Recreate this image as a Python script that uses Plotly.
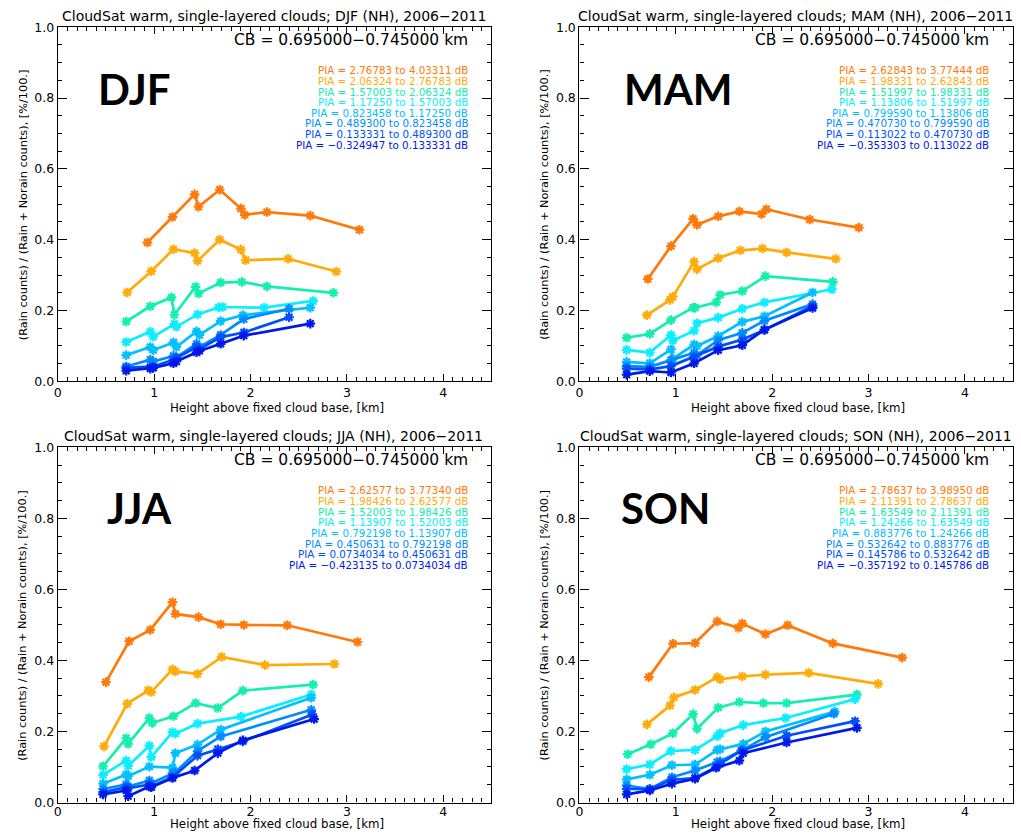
import plotly.graph_objects as go

# ---------------- data ----------------
seasons = ["DJF", "MAM", "JJA", "SON"]

djf_heights = [
    [0.93, 1.19, 1.42, 1.46, 1.68, 1.90, 1.94, 2.17, 2.62, 3.13],
    [0.72, 0.97, 1.20, 1.42, 1.45, 1.68, 1.90, 1.95, 2.39, 2.89],
    [0.71, 0.96, 1.18, 1.21, 1.43, 1.46, 1.69, 1.91, 2.17, 2.86],
    [0.71, 0.96, 0.99, 1.21, 1.23, 1.45, 1.67, 1.71, 2.14, 2.65],
    [0.71, 0.96, 0.99, 1.20, 1.23, 1.44, 1.47, 1.69, 1.92, 2.62],
    [0.71, 0.96, 0.99, 1.20, 1.23, 1.44, 1.47, 1.69, 1.93, 2.40],
    [0.71, 0.96, 0.99, 1.20, 1.23, 1.44, 1.47, 1.69, 1.93, 2.40],
    [0.71, 0.96, 0.99, 1.20, 1.23, 1.44, 1.47, 1.69, 1.93, 2.62],
]
djf_frac = [
    [0.392, 0.464, 0.528, 0.493, 0.541, 0.488, 0.470, 0.478, 0.468, 0.428],
    [0.251, 0.311, 0.373, 0.362, 0.340, 0.400, 0.372, 0.342, 0.346, 0.310],
    [0.169, 0.212, 0.237, 0.188, 0.267, 0.248, 0.279, 0.281, 0.268, 0.250],
    [0.111, 0.140, 0.126, 0.162, 0.154, 0.189, 0.209, 0.210, 0.208, 0.227],
    [0.074, 0.097, 0.088, 0.110, 0.097, 0.141, 0.131, 0.170, 0.187, 0.208],
    [0.042, 0.061, 0.056, 0.072, 0.068, 0.106, 0.097, 0.131, 0.176, 0.205],
    [0.038, 0.040, 0.042, 0.061, 0.066, 0.097, 0.091, 0.125, 0.138, 0.181],
    [0.030, 0.036, 0.038, 0.051, 0.056, 0.082, 0.086, 0.106, 0.129, 0.163],
]
djf_pia = [
    "PIA = 2.76783 to 4.03311 dB", "PIA = 2.06324 to 2.76783 dB",
    "PIA = 1.57003 to 2.06324 dB", "PIA = 1.17250 to 1.57003 dB",
    "PIA = 0.823458 to 1.17250 dB", "PIA = 0.489300 to 0.823458 dB",
    "PIA = 0.133331 to 0.489300 dB", "PIA = −0.324947 to 0.133331 dB",
]

mam_heights = [
    [0.71, 0.95, 1.18, 1.22, 1.44, 1.66, 1.89, 1.94, 2.39, 2.90],
    [0.70, 0.94, 0.97, 1.19, 1.22, 1.44, 1.67, 1.90, 2.15, 2.66],
    [0.49, 0.73, 0.95, 1.18, 1.20, 1.42, 1.46, 1.69, 1.93, 2.63],
    [0.49, 0.73, 0.95, 0.97, 1.19, 1.22, 1.44, 1.69, 1.92, 2.62],
    [0.49, 0.73, 0.95, 0.97, 1.19, 1.22, 1.44, 1.69, 1.92, 2.42],
    [0.49, 0.73, 0.95, 1.19, 1.22, 1.44, 1.69, 1.92, 2.42],
    [0.49, 0.73, 0.95, 1.19, 1.44, 1.69, 1.92, 2.42],
    [0.49, 0.73, 0.95, 1.19, 1.44, 1.69, 1.92, 2.42],
]
mam_frac = [
    [0.289, 0.382, 0.459, 0.442, 0.466, 0.480, 0.472, 0.486, 0.457, 0.434],
    [0.187, 0.230, 0.239, 0.338, 0.317, 0.348, 0.370, 0.375, 0.364, 0.346],
    [0.123, 0.134, 0.173, 0.208, 0.208, 0.223, 0.244, 0.255, 0.297, 0.281],
    [0.089, 0.081, 0.131, 0.115, 0.143, 0.164, 0.180, 0.205, 0.223, 0.260],
    [0.055, 0.051, 0.090, 0.064, 0.104, 0.100, 0.128, 0.168, 0.184, 0.251],
    [0.043, 0.041, 0.060, 0.081, 0.074, 0.116, 0.137, 0.171, 0.218],
    [0.036, 0.034, 0.043, 0.069, 0.098, 0.118, 0.145, 0.213],
    [0.019, 0.029, 0.025, 0.051, 0.088, 0.102, 0.146, 0.207],
]
mam_pia = [
    "PIA = 2.62843 to 3.77444 dB", "PIA = 1.98331 to 2.62843 dB",
    "PIA = 1.51997 to 1.98331 dB", "PIA = 1.13806 to 1.51997 dB",
    "PIA = 0.799590 to 1.13806 dB", "PIA = 0.470730 to 0.799590 dB",
    "PIA = 0.113022 to 0.470730 dB", "PIA = −0.353303 to 0.113022 dB",
]

jja_heights = [
    [0.50, 0.74, 0.96, 1.19, 1.22, 1.46, 1.69, 1.93, 2.38, 3.11],
    [0.48, 0.72, 0.94, 0.97, 1.19, 1.22, 1.45, 1.70, 2.15, 2.87],
    [0.47, 0.71, 0.73, 0.95, 0.98, 1.20, 1.43, 1.66, 1.92, 2.65],
    [0.47, 0.71, 0.73, 0.95, 0.97, 1.19, 1.22, 1.45, 1.90, 2.63],
    [0.47, 0.71, 0.73, 0.95, 1.19, 1.22, 1.45, 1.69, 2.63],
    [0.47, 0.71, 0.73, 0.95, 0.97, 1.19, 1.22, 1.45, 1.69, 2.63],
    [0.47, 0.71, 0.73, 0.95, 0.97, 1.19, 1.45, 1.66, 1.92, 2.64],
    [0.47, 0.71, 0.73, 0.95, 0.97, 1.19, 1.42, 1.66, 1.92, 2.66],
]
jja_frac = [
    [0.339, 0.454, 0.486, 0.564, 0.531, 0.522, 0.502, 0.500, 0.499, 0.452],
    [0.158, 0.278, 0.316, 0.311, 0.375, 0.369, 0.362, 0.410, 0.387, 0.390],
    [0.102, 0.181, 0.165, 0.238, 0.224, 0.243, 0.280, 0.266, 0.315, 0.332],
    [0.078, 0.118, 0.103, 0.160, 0.128, 0.198, 0.194, 0.222, 0.242, 0.304],
    [0.053, 0.079, 0.074, 0.101, 0.098, 0.139, 0.163, 0.205, 0.295],
    [0.038, 0.051, 0.045, 0.062, 0.054, 0.083, 0.085, 0.145, 0.186, 0.261],
    [0.029, 0.043, 0.040, 0.051, 0.045, 0.071, 0.132, 0.150, 0.172, 0.248],
    [0.023, 0.034, 0.018, 0.045, 0.043, 0.069, 0.090, 0.139, 0.175, 0.235],
]
jja_pia = [
    "PIA = 2.62577 to 3.77340 dB", "PIA = 1.98426 to 2.62577 dB",
    "PIA = 1.52003 to 1.98426 dB", "PIA = 1.13907 to 1.52003 dB",
    "PIA = 0.792198 to 1.13907 dB", "PIA = 0.450631 to 0.792198 dB",
    "PIA = 0.0734034 to 0.450631 dB", "PIA = −0.423135 to 0.0734034 dB",
]

son_heights = [
    [0.72, 0.97, 1.20, 1.43, 1.65, 1.69, 1.93, 2.16, 2.63, 3.35],
    [0.70, 0.94, 0.98, 1.20, 1.43, 1.46, 1.69, 1.93, 2.38, 3.10],
    [0.50, 0.74, 0.97, 1.18, 1.22, 1.44, 1.66, 1.91, 2.15, 2.88],
    [0.49, 0.73, 0.95, 1.20, 1.43, 1.46, 1.70, 2.14, 2.86],
    [0.49, 0.73, 0.96, 1.20, 1.43, 1.46, 1.70, 1.93, 2.65],
    [0.49, 0.73, 0.96, 1.20, 1.43, 1.46, 1.70, 1.93, 2.64],
    [0.49, 0.73, 0.96, 1.20, 1.42, 1.46, 1.68, 2.15, 2.86],
    [0.49, 0.73, 0.96, 1.20, 1.42, 1.66, 1.70, 2.15, 2.88],
]
son_frac = [
    [0.353, 0.447, 0.449, 0.510, 0.492, 0.504, 0.474, 0.499, 0.448, 0.408],
    [0.220, 0.273, 0.296, 0.317, 0.353, 0.347, 0.355, 0.360, 0.365, 0.334],
    [0.136, 0.164, 0.195, 0.249, 0.208, 0.267, 0.283, 0.280, 0.280, 0.304],
    [0.094, 0.107, 0.145, 0.148, 0.187, 0.195, 0.218, 0.238, 0.291],
    [0.065, 0.078, 0.105, 0.107, 0.148, 0.150, 0.165, 0.200, 0.256],
    [0.048, 0.038, 0.071, 0.090, 0.114, 0.116, 0.149, 0.184, 0.250],
    [0.038, 0.038, 0.064, 0.069, 0.100, 0.109, 0.146, 0.188, 0.229],
    [0.023, 0.034, 0.053, 0.067, 0.098, 0.118, 0.139, 0.169, 0.210],
]
son_pia = [
    "PIA = 2.78637 to 3.98950 dB", "PIA = 2.11391 to 2.78637 dB",
    "PIA = 1.63549 to 2.11391 dB", "PIA = 1.24266 to 1.63549 dB",
    "PIA = 0.883776 to 1.24266 dB", "PIA = 0.532642 to 0.883776 dB",
    "PIA = 0.145786 to 0.532642 dB", "PIA = −0.357192 to 0.145786 dB",
]

title_text = "CloudSat warm, single-layered clouds; {} (NH), 2006−2011"
cb_text = "CB = 0.695000−0.745000 km"
x_title = "Height above fixed cloud base, [km]"
y_title = "(Rain counts) / (Rain + Norain counts), [%/100.]"
x_ticks = [0, 1, 2, 3, 4]
y_ticks = [0.0, 0.2, 0.4, 0.6, 0.8, 1.0]

# ---------------- styling ----------------
colors = ["rgb(255,122,10)", "rgb(255,172,10)", "rgb(20,238,175)", "rgb(10,238,255)",
          "rgb(0,192,255)", "rgb(0,140,255)", "rgb(0,80,250)", "rgb(0,25,235)"]

W, H = 1021, 837
# measured vertical mapping of the capture: shown_y = 7.8 + 0.9817 * layout_y
V_OFF, V_SCALE = 7.8, 0.9817

def px(x):
    return x / W

def py(y, limit=None):
    ly = (y - V_OFF) / V_SCALE
    if limit is not None:
        ly = min(ly, limit)
    return 1 - ly / H

# panel pixel boxes (as seen in the target): left, right, top, bottom
boxes = [(54, 489.4, 27, 381), (577.7, 1013, 27, 381),
         (54, 489.4, 447, 802), (577.7, 1013, 447, 802)]
title_cx = [271, 795, 271, 795]
title_cy = [15.5, 15.5, 436, 436]
big_cx = [131, 677, 136, 664]
big_cy = [89, 89, 507.5, 507.5]
xt_cy = [408, 408, 829, 829]
xlab_standoff = [0, 0, -3, -3]

heights_all = [djf_heights, mam_heights, jja_heights, son_heights]
frac_all = [djf_frac, mam_frac, jja_frac, son_frac]
pia_all = [djf_pia, mam_pia, jja_pia, son_pia]

font_main = "DejaVu Sans"
fig = go.Figure()
annotations = []
layout_axes = {}

for i, season in enumerate(seasons):
    n = i + 1
    xa = "x" if n == 1 else f"x{n}"
    ya = "y" if n == 1 else f"y{n}"
    l, r, t, b = boxes[i]
    for k in range(8):
        fig.add_trace(go.Scatter(
            x=heights_all[i][k], y=frac_all[i][k], mode="lines+markers",
            xaxis=xa, yaxis=ya, showlegend=False,
            line=dict(color=colors[k], width=2.7),
            marker=dict(symbol="asterisk-open", size=8,
                        line=dict(color=colors[k], width=2.2)),
        ))
    axis_common = dict(showgrid=False, zeroline=False, showline=True, linecolor="black",
                       linewidth=1.2, mirror="ticks", ticks="inside", tickcolor="black",
                       tickfont=dict(family=font_main, size=12.5, color="black"))
    layout_axes["xaxis" if n == 1 else f"xaxis{n}"] = dict(
        axis_common, domain=[px(l), px(r)], range=[0, 4.5], anchor=ya,
        tickvals=x_ticks, ticktext=[str(v) for v in x_ticks], ticklen=7, tickwidth=1.2,
        ticklabelstandoff=xlab_standoff[i],
        minor=dict(dtick=0.1, tick0=0, ticklen=4, ticks="inside", tickcolor="black", tickwidth=1),
    )
    layout_axes["yaxis" if n == 1 else f"yaxis{n}"] = dict(
        axis_common, domain=[py(b), py(t)], range=[0, 1.0], anchor=xa,
        tickvals=y_ticks, ticktext=[f"{v:.1f}" for v in y_ticks], ticklen=9, tickwidth=1.2,
        minor=dict(dtick=0.05, tick0=0, ticklen=4, ticks="inside", tickcolor="black", tickwidth=1),
    )
    annotations.append(dict(x=px(title_cx[i]), y=py(title_cy[i]),
                            xref="paper", yref="paper", text=title_text.format(season),
                            showarrow=False, xanchor="center", yanchor="middle",
                            font=dict(family=font_main, size=14, color="black")))
    annotations.append(dict(x=px(r - 22), y=py(t + 13), xref="paper", yref="paper",
                            text=cb_text, showarrow=False, xanchor="right", yanchor="middle",
                            font=dict(family=font_main, size=15.5, color="black")))
    for k in range(8):
        annotations.append(dict(x=px(r - 22), y=py(t + 43 + 10.65 * k), xref="paper", yref="paper",
                                text=pia_all[i][k], showarrow=False, xanchor="right",
                                yanchor="middle",
                                font=dict(family=font_main, size=10.3, color=colors[k])))
    annotations.append(dict(x=px(big_cx[i]), y=py(big_cy[i]), xref="paper", yref="paper",
                            text=f"<b>{season}</b>", showarrow=False, xanchor="center",
                            yanchor="middle",
                            font=dict(family="Lato", size=42, color="black")))
    annotations.append(dict(x=px((l + r) / 2 + 2), y=py(xt_cy[i], limit=H - 6.5),
                            xref="paper", yref="paper",
                            text=x_title, showarrow=False, xanchor="center", yanchor="middle",
                            font=dict(family=font_main, size=11.8, color="black")))
    annotations.append(dict(x=px(l - 35), y=py((t + b) / 2), xref="paper", yref="paper",
                            text=y_title, showarrow=False, xanchor="center", yanchor="middle",
                            textangle=-90,
                            font=dict(family=font_main, size=11.3, color="black")))

fig.update_layout(
    width=W, height=H, autosize=False,
    margin=dict(l=0, r=0, t=0, b=0),
    paper_bgcolor="white", plot_bgcolor="white",
    annotations=annotations,
    **layout_axes,
)

post = (
    "document.documentElement.style.margin='0';"
    "document.documentElement.style.overflow='hidden';"
    "document.body.style.margin='0';document.body.style.overflow='hidden';"
    "var d=document.getElementById('{plot_id}');"
    "d.style.position='fixed';d.style.top='0px';d.style.left='0px';"
)
fig.write_html("out.html", post_script=post, config={"displayModeBar": False})
